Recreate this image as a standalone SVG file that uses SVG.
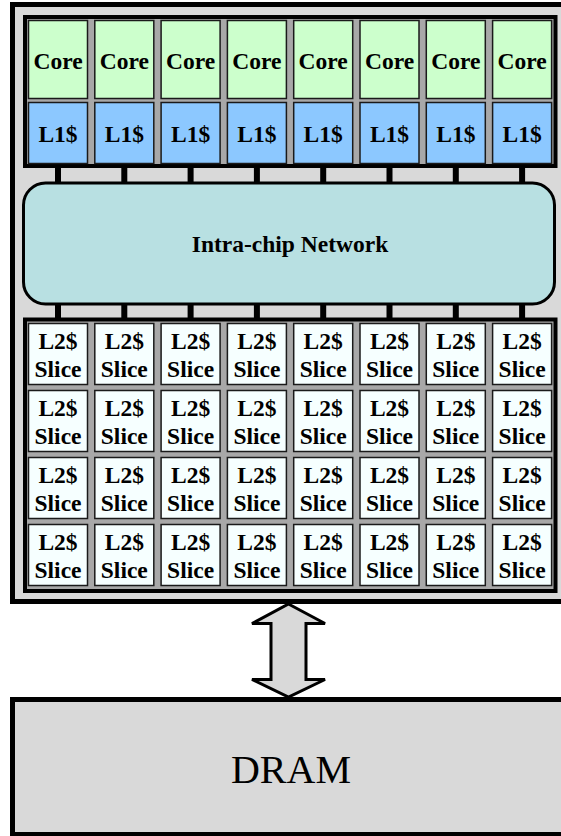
<svg xmlns="http://www.w3.org/2000/svg" width="561" height="836" viewBox="0 0 561 836">
<defs>
<style>
text{font-family:'Liberation Serif','Times New Roman',Times,serif}
.lbl{font-weight:700;font-size:23.5px;text-anchor:middle;fill:#000}
.core{fill:#ccffcc;stroke:#1a1a1a;stroke-width:1.5}
.l1{fill:#8cc8ff;stroke:#1a1a1a;stroke-width:1.5}
.l2{fill:#f6ffff;stroke:#1a1a1a;stroke-width:1.5}
.cont{fill:#a8a8a8;stroke:#000;stroke-width:4}
.stub{fill:#000}
</style>
</defs>
<rect width="561" height="836" fill="#fff"/>
<g id="chip">
<rect x="12.5" y="4.5" width="560" height="597" fill="#d9d9d9" stroke="#000" stroke-width="5"/>
</g>
<g id="connectors">
<g class="stub">
<rect x="55" y="167" width="6" height="16"/><rect x="121.3" y="167" width="6" height="16"/><rect x="187.6" y="167" width="6" height="16"/><rect x="253.9" y="167" width="6" height="16"/><rect x="320.2" y="167" width="6" height="16"/><rect x="386.5" y="167" width="6" height="16"/><rect x="452.8" y="167" width="6" height="16"/><rect x="519.1" y="167" width="6" height="16"/>
<rect x="55" y="304" width="6" height="16"/><rect x="121.3" y="304" width="6" height="16"/><rect x="187.6" y="304" width="6" height="16"/><rect x="253.9" y="304" width="6" height="16"/><rect x="320.2" y="304" width="6" height="16"/><rect x="386.5" y="304" width="6" height="16"/><rect x="452.8" y="304" width="6" height="16"/><rect x="519.1" y="304" width="6" height="16"/>
</g>
<polygon id="arrow" points="288.5,604 325,623.5 306,623.5 306,679.5 325,679.5 288.5,697 252,679.5 271,679.5 271,623.5 252,623.5" fill="#d9d9d9" stroke="#000" stroke-width="3" stroke-linejoin="miter"/>
</g>
<g id="cores">
<rect class="cont" x="25" y="17" width="530.5" height="149"/>
<g id="core-row">
<rect class="core" x="28.5" y="20.5" width="59" height="78"/><rect class="core" x="94.8" y="20.5" width="59" height="78"/><rect class="core" x="161.1" y="20.5" width="59" height="78"/><rect class="core" x="227.4" y="20.5" width="59" height="78"/><rect class="core" x="293.7" y="20.5" width="59" height="78"/><rect class="core" x="360" y="20.5" width="59" height="78"/><rect class="core" x="426.3" y="20.5" width="59" height="78"/><rect class="core" x="492.6" y="20.5" width="59" height="78"/>
<text class="lbl" font-family="Liberation Serif, serif" y="69"><tspan x="58">Core</tspan><tspan x="124.3">Core</tspan><tspan x="190.6">Core</tspan><tspan x="256.9">Core</tspan><tspan x="323.2">Core</tspan><tspan x="389.5">Core</tspan><tspan x="455.8">Core</tspan><tspan x="522.1">Core</tspan></text>
</g>
<g id="l1-row">
<rect class="l1" x="28.5" y="102.5" width="59" height="61"/><rect class="l1" x="94.8" y="102.5" width="59" height="61"/><rect class="l1" x="161.1" y="102.5" width="59" height="61"/><rect class="l1" x="227.4" y="102.5" width="59" height="61"/><rect class="l1" x="293.7" y="102.5" width="59" height="61"/><rect class="l1" x="360" y="102.5" width="59" height="61"/><rect class="l1" x="426.3" y="102.5" width="59" height="61"/><rect class="l1" x="492.6" y="102.5" width="59" height="61"/>
<text class="lbl" y="142"><tspan x="58">L1$</tspan><tspan x="124.3">L1$</tspan><tspan x="190.6">L1$</tspan><tspan x="256.9">L1$</tspan><tspan x="323.2">L1$</tspan><tspan x="389.5">L1$</tspan><tspan x="455.8">L1$</tspan><tspan x="522.1">L1$</tspan></text>
</g>
</g>
<g id="network">
<rect x="23.5" y="183" width="531" height="121" rx="22" ry="22" fill="#b8e0e2" stroke="#000" stroke-width="3"/>
<text class="lbl" x="290" y="252">Intra-chip Network</text>
</g>
<g id="l2">
<rect class="cont" x="25" y="319.5" width="530.5" height="271.5"/>
<g id="l2-cells">
<g id="l2-r1">
<rect class="l2" x="28.5" y="323.5" width="59" height="61"/><rect class="l2" x="94.8" y="323.5" width="59" height="61"/><rect class="l2" x="161.1" y="323.5" width="59" height="61"/><rect class="l2" x="227.4" y="323.5" width="59" height="61"/><rect class="l2" x="293.7" y="323.5" width="59" height="61"/><rect class="l2" x="360" y="323.5" width="59" height="61"/><rect class="l2" x="426.3" y="323.5" width="59" height="61"/><rect class="l2" x="492.6" y="323.5" width="59" height="61"/>
</g>
<g id="l2-r2">
<rect class="l2" x="28.5" y="390.5" width="59" height="61"/><rect class="l2" x="94.8" y="390.5" width="59" height="61"/><rect class="l2" x="161.1" y="390.5" width="59" height="61"/><rect class="l2" x="227.4" y="390.5" width="59" height="61"/><rect class="l2" x="293.7" y="390.5" width="59" height="61"/><rect class="l2" x="360" y="390.5" width="59" height="61"/><rect class="l2" x="426.3" y="390.5" width="59" height="61"/><rect class="l2" x="492.6" y="390.5" width="59" height="61"/>
</g>
<g id="l2-r3">
<rect class="l2" x="28.5" y="457.5" width="59" height="61"/><rect class="l2" x="94.8" y="457.5" width="59" height="61"/><rect class="l2" x="161.1" y="457.5" width="59" height="61"/><rect class="l2" x="227.4" y="457.5" width="59" height="61"/><rect class="l2" x="293.7" y="457.5" width="59" height="61"/><rect class="l2" x="360" y="457.5" width="59" height="61"/><rect class="l2" x="426.3" y="457.5" width="59" height="61"/><rect class="l2" x="492.6" y="457.5" width="59" height="61"/>
</g>
<g id="l2-r4">
<rect class="l2" x="28.5" y="524.5" width="59" height="61"/><rect class="l2" x="94.8" y="524.5" width="59" height="61"/><rect class="l2" x="161.1" y="524.5" width="59" height="61"/><rect class="l2" x="227.4" y="524.5" width="59" height="61"/><rect class="l2" x="293.7" y="524.5" width="59" height="61"/><rect class="l2" x="360" y="524.5" width="59" height="61"/><rect class="l2" x="426.3" y="524.5" width="59" height="61"/><rect class="l2" x="492.6" y="524.5" width="59" height="61"/>
</g>
</g>
<g id="l2-text">
<text class="lbl" y="349"><tspan x="58">L2$</tspan><tspan x="124.3">L2$</tspan><tspan x="190.6">L2$</tspan><tspan x="256.9">L2$</tspan><tspan x="323.2">L2$</tspan><tspan x="389.5">L2$</tspan><tspan x="455.8">L2$</tspan><tspan x="522.1">L2$</tspan></text>
<text class="lbl" y="377"><tspan x="58">Slice</tspan><tspan x="124.3">Slice</tspan><tspan x="190.6">Slice</tspan><tspan x="256.9">Slice</tspan><tspan x="323.2">Slice</tspan><tspan x="389.5">Slice</tspan><tspan x="455.8">Slice</tspan><tspan x="522.1">Slice</tspan></text>
<text class="lbl" y="416"><tspan x="58">L2$</tspan><tspan x="124.3">L2$</tspan><tspan x="190.6">L2$</tspan><tspan x="256.9">L2$</tspan><tspan x="323.2">L2$</tspan><tspan x="389.5">L2$</tspan><tspan x="455.8">L2$</tspan><tspan x="522.1">L2$</tspan></text>
<text class="lbl" y="444"><tspan x="58">Slice</tspan><tspan x="124.3">Slice</tspan><tspan x="190.6">Slice</tspan><tspan x="256.9">Slice</tspan><tspan x="323.2">Slice</tspan><tspan x="389.5">Slice</tspan><tspan x="455.8">Slice</tspan><tspan x="522.1">Slice</tspan></text>
<text class="lbl" y="483"><tspan x="58">L2$</tspan><tspan x="124.3">L2$</tspan><tspan x="190.6">L2$</tspan><tspan x="256.9">L2$</tspan><tspan x="323.2">L2$</tspan><tspan x="389.5">L2$</tspan><tspan x="455.8">L2$</tspan><tspan x="522.1">L2$</tspan></text>
<text class="lbl" y="511"><tspan x="58">Slice</tspan><tspan x="124.3">Slice</tspan><tspan x="190.6">Slice</tspan><tspan x="256.9">Slice</tspan><tspan x="323.2">Slice</tspan><tspan x="389.5">Slice</tspan><tspan x="455.8">Slice</tspan><tspan x="522.1">Slice</tspan></text>
<text class="lbl" y="550"><tspan x="58">L2$</tspan><tspan x="124.3">L2$</tspan><tspan x="190.6">L2$</tspan><tspan x="256.9">L2$</tspan><tspan x="323.2">L2$</tspan><tspan x="389.5">L2$</tspan><tspan x="455.8">L2$</tspan><tspan x="522.1">L2$</tspan></text>
<text class="lbl" y="578"><tspan x="58">Slice</tspan><tspan x="124.3">Slice</tspan><tspan x="190.6">Slice</tspan><tspan x="256.9">Slice</tspan><tspan x="323.2">Slice</tspan><tspan x="389.5">Slice</tspan><tspan x="455.8">Slice</tspan><tspan x="522.1">Slice</tspan></text>
</g>
</g>
<g id="dram">
<rect x="12.5" y="699.5" width="560" height="135" fill="#d9d9d9" stroke="#000" stroke-width="5"/>
<text x="291" y="783" font-size="40" text-anchor="middle" fill="#000">DRAM</text>
</g>
</svg>
